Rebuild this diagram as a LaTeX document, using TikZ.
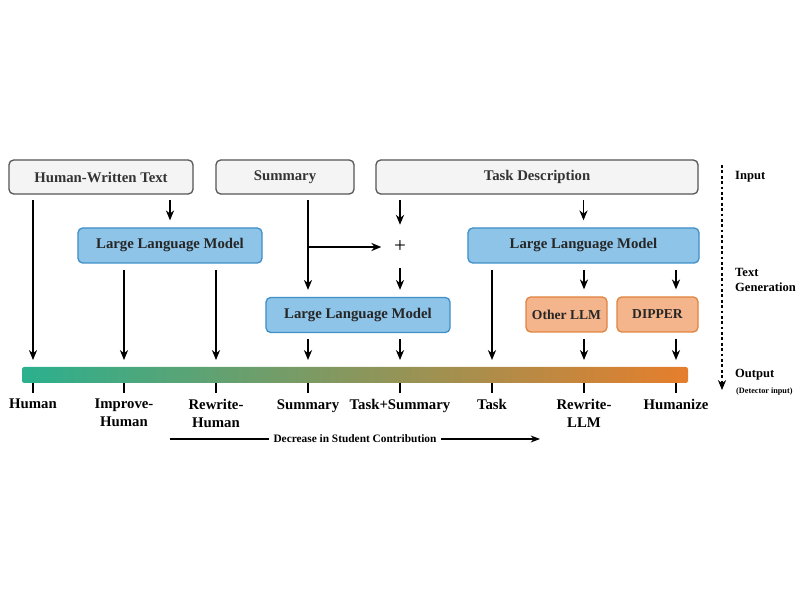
\documentclass[tikz,border=0pt]{standalone}
\usepackage{fontspec}
\setmainfont{Liberation Serif}
\usetikzlibrary{arrows.meta}

\definecolor{boxgray}{HTML}{F4F4F4}
\definecolor{linegray}{HTML}{555555}
\definecolor{textgray}{HTML}{333333}
\definecolor{llmfill}{HTML}{8EC4E8}
\definecolor{llmline}{HTML}{3F8FC8}
\definecolor{altfill}{HTML}{F4B48C}
\definecolor{altline}{HTML}{E0843F}
\definecolor{barteal}{HTML}{2BB08E}
\definecolor{barorange}{HTML}{E67E2C}

\begin{document}
\begin{tikzpicture}[x=0.03cm,y=-0.03cm,
    boxfont/.style={font=\fontsize{12.6}{14}\selectfont\bfseries},
    inbox/.style={boxfont, draw=linegray, fill=boxgray, text=textgray, line width=1.1pt,
      rounded corners=4pt, minimum height=1.02cm, inner sep=0pt},
    llmbox/.style={boxfont, draw=llmline, fill=llmfill, text=black!85, line width=1.1pt,
      rounded corners=4pt, minimum height=1.05cm, inner sep=0pt},
    altbox/.style={font=\fontsize{11.6}{13}\selectfont\bfseries, draw=altline, fill=altfill, text=black!85, line width=1.1pt,
      rounded corners=4pt, minimum height=1.05cm, inner sep=0pt},
    outlabel/.style={font=\fontsize{12.6}{15.3}\selectfont\bfseries, align=center, anchor=north, inner sep=0pt},
    sidelabel/.style={font=\fontsize{10.7}{12.8}\selectfont\bfseries, align=left, anchor=west, inner sep=0pt},
    arr/.style={-{Stealth[length=8.5pt,width=7pt]}, line width=0.9pt, shorten <=5pt, shorten >=6pt}]
    \useasboundingbox (0,0) rectangle (800,600);

    % Marking input boxes
    \node [inbox, minimum width=5.52cm] (hwt) at (101,177) {Human-Written Text};
    \node [inbox, minimum width=4.14cm] (sum) at (285,177) {Summary};
    \node [inbox, minimum width=9.66cm] (task) at (537,177) {Task Description};

    % Marking generation boxes
    \node [llmbox, minimum width=5.52cm] (llmA) at (170,245.5) {Large Language Model};
    \node [llmbox, minimum width=5.52cm] (llmB) at (358,315) {Large Language Model};
    \node [llmbox, minimum width=6.93cm] (llmC) at (583.5,245.5) {Large Language Model};
    \node [altbox, minimum width=2.43cm] (other) at (566.5,314.5) {Other LLM};
    \node [altbox, minimum width=2.43cm] (dipper) at (657.5,314.5) {DIPPER};
    \node [font=\fontsize{18}{19}\selectfont, minimum size=0.9cm, inner sep=0pt] (plus) at (400,247) {+};

    % Drawing output bar
    \shade [left color=barteal, right color=barorange, rounded corners=2pt] (22,367) rectangle (688,383);
    \coordinate (t1) at (33,367);
    \coordinate (t2) at (124,367);
    \coordinate (t3) at (216,367);
    \coordinate (t4) at (308,367);
    \coordinate (t5) at (400,367);
    \coordinate (t6) at (492,367);
    \coordinate (t7) at (584,367);
    \coordinate (t8) at (676,367);
    \coordinate (j) at (308,247);

    % Drawing arrows into the models
    \draw [arr] (hwt.south -| llmA) -- (llmA.north);
    \draw [arr] (sum.south -| j) -- (llmB.north -| j);
    \draw [arr, shorten <=0pt, shorten >=3pt] (j) -- (plus.west);
    \draw [arr] (task.south -| plus) -- (plus.north);
    \draw [arr] (plus.south) -- (llmB.north -| plus);
    \draw [arr] (task.south -| llmC) -- (llmC.north);
    \draw [arr] (llmC.south -| t7) -- (other.north -| t7);
    \draw [arr] (llmC.south -| t8) -- (dipper.north -| t8);

    % Drawing arrows into the bar
    \draw [arr, shorten >=6pt] (hwt.south -| t1) -- (t1);
    \draw [arr, shorten >=6pt] (llmA.south -| t2) -- (t2);
    \draw [arr, shorten >=6pt] (llmA.south -| t3) -- (t3);
    \draw [arr, shorten >=6pt] (llmB.south -| t4) -- (t4);
    \draw [arr, shorten >=6pt] (llmB.south -| t5) -- (t5);
    \draw [arr, shorten >=6pt] (llmC.south -| t6) -- (t6);
    \draw [arr, shorten >=6pt] (other.south -| t7) -- (t7);
    \draw [arr, shorten >=6pt] (dipper.south -| t8) -- (t8);

    % Drawing ticks under the bar
    \draw [line width=0.9pt] (33,383) -- (33,393);
    \draw [line width=0.9pt] (124,383) -- (124,393);
    \draw [line width=0.9pt] (216,383) -- (216,393);
    \draw [line width=0.9pt] (308,383) -- (308,393);
    \draw [line width=0.9pt] (400,383) -- (400,393);
    \draw [line width=0.9pt] (492,383) -- (492,393);
    \draw [line width=0.9pt] (584,383) -- (584,393);
    \draw [line width=0.9pt] (676,383) -- (676,393);

    % Marking output labels
    \node [outlabel] (oHuman) at (33,399) {Human};
    \node [outlabel] (oImprove) at (124,399) {Improve-\\Human};
    \node [outlabel] (oRewriteH) at (216,399) {Rewrite-\\Human};
    \node [outlabel] (oSummary) at (308,399) {Summary};
    \node [outlabel] (oTaskSum) at (400,399) {Task+Summary};
    \node [outlabel] (oTask) at (492,399) {Task};
    \node [outlabel] (oRewriteL) at (584,399) {Rewrite-\\LLM};
    \node [outlabel] (oHumanize) at (676,399) {Humanize};

    % Drawing contribution arrow
    \coordinate (d1) at (170,439);
    \coordinate (d2) at (540,439);
    \draw [-{Stealth[length=8pt,width=6pt]}, line width=0.9pt] (d1) --
      node [fill=white, inner xsep=4pt, font=\fontsize{9.7}{11}\selectfont\bfseries] (dec) {Decrease in Student Contribution} (d2);

    % Drawing stage axis
    \coordinate (s1) at (722,165);
    \coordinate (s2) at (722,390);
    \draw [-{Stealth[length=8.5pt,width=7pt]}, line width=0.9pt, dash pattern=on 2.4pt off 2.2pt] (s1) -- (s2);
    \node [sidelabel] (lInput) at (735,177) {Input};
    \node [sidelabel] (lGen) at (735,280) {Text\\Generation};
    \node [sidelabel] (lOutput) at (735,375) {Output};
    \node [sidelabel, font=\fontsize{7}{8}\selectfont\bfseries] (lDet) at (736,392) {(Detector input)};
\end{tikzpicture}
\end{document}
